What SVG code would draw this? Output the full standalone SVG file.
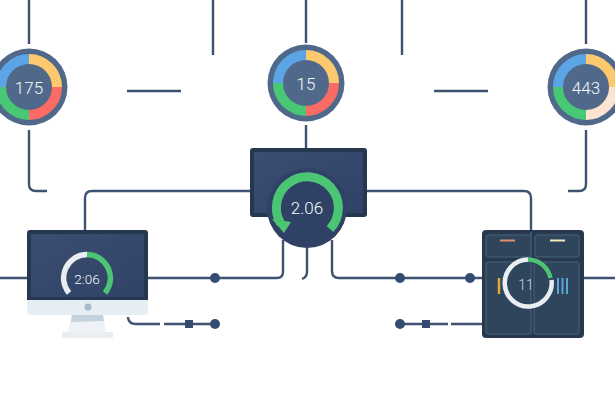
<svg xmlns="http://www.w3.org/2000/svg" width="615" height="410" viewBox="0 0 615 410">
<style>
.l{fill:none;stroke:#3f5272;stroke-width:2.4}
.d{fill:#344c70}
.t{font-family:"Roboto","Liberation Sans",sans-serif;font-weight:300;fill:#f6f8fa;text-anchor:middle}
.s{fill:none;stroke-width:10}
.g{fill:none;stroke:#4bc573;stroke-linecap:butt}
.w{fill:none;stroke:#e9eef2;stroke-linecap:butt}
.c{fill:#2f455c;stroke:#4a6479;stroke-width:1}
</style>
<defs>
<g id="donut">
<circle r="38.5" fill="#50698a"/>
<path class="s" stroke="#fcc96e" d="M0-28A28 28 0 0 1 28 0"/>
<path class="s" stroke="#5ba4e6" d="M-28 0A28 28 0 0 1 0-28"/>
<path class="s" stroke="#48c774" d="M0 28A28 28 0 0 1-28 0"/>
</g>
<linearGradient id="scr" x1="0" y1="0" x2="1" y2="1"><stop offset="0" stop-color="#3b4d70"/><stop offset="1" stop-color="#304366"/></linearGradient>
</defs>
<rect width="615" height="410" fill="#fff"/>
<g id="connectors">
<path class="l" d="M29 0V44M213 0V55M306 0V43M402 0V55M586 0V44M127 91H181M434 91H488M306 125V150"/>
<path class="l" d="M29 130V184Q29 191 36 191H47M586 130V184Q586 191 579 191H568"/>
<path class="l" d="M250 191H92Q85 191 85 198V232M367 191H524Q531 191 531 198V232"/>
<path class="l" d="M0 278H28M148 278H277Q283 278 283 272V240M307 245V272Q307 277 302 279M332 240V271Q332 278 339 278H483M583 278H615"/>
<path class="l" d="M128 317V318Q129 324 136 324H160M164 324H215M400 324H448M451 324H483"/>
<circle class="d" cx="215" cy="278" r="5"/><circle class="d" cx="400" cy="278" r="5"/><circle class="d" cx="470" cy="278" r="5"/>
<circle class="d" cx="215" cy="324" r="5"/><circle class="d" cx="400" cy="324" r="5"/>
<rect class="d" x="185" y="320" width="8" height="8"/><rect class="d" x="422" y="320" width="8" height="8"/>
</g>
<g id="gauge-left" transform="translate(29 87)">
<use href="#donut"/>
<path class="s" stroke="#f96b64" d="M28 0A28 28 0 0 1 0 28"/>
<text class="t" x="0" y="6.500" font-size="17">175</text>
</g>
<g id="gauge-center" transform="translate(306 83)">
<use href="#donut"/>
<path class="s" stroke="#f96b64" d="M28 0A28 28 0 0 1 0 28"/>
<text class="t" x="0" y="6.500" font-size="17">15</text>
</g>
<g id="gauge-right" transform="translate(586 87)">
<use href="#donut"/>
<path class="s" stroke="#fde4d0" d="M28 0A28 28 0 0 1 0 28"/>
<text class="t" x="0" y="6.500" font-size="17">443</text>
</g>
<g id="monitor-center">
<rect x="250" y="148" width="117" height="69" rx="3" fill="#26384f"/>
<rect x="254" y="152" width="109" height="61" fill="url(#scr)"/>
<circle cx="307" cy="208" r="40" fill="#2f4266"/>
<path class="g" stroke-width="9" d="M281 224A31 31 0 1 1 330 229"/>
<path d="M272 219L291 222L284 233Z" fill="#4bc573"/>
<text class="t" x="307" y="213.500" font-size="17">2.06</text>
</g>
<g id="monitor-left">
<path d="M71 315H103L106 332H68Z" fill="#eef2f6"/>
<path d="M72 315H103L104 321L71 322Z" fill="#c5d2dc"/>
<rect x="62" y="332" width="51" height="6" rx="1" fill="#e8eef2"/>
<rect x="27" y="296" width="121" height="19" rx="3" fill="#e6edf3"/>
<path d="M27 300V233Q27 230 30 230H145Q148 230 148 233V300Z" fill="#26384f"/>
<rect x="31" y="234" width="113" height="63" fill="url(#scr)"/>
<circle cx="88" cy="307" r="3.500" fill="#a8b8c4"/>
<path class="w" stroke-width="5.500" d="M69 293A23.500 23.500 0 0 1 87 254.500"/>
<path class="g" stroke-width="5.500" d="M87 254.500A23.500 23.500 0 0 1 105 293"/>
<text class="t" x="87" y="284" font-size="13.500">2:06</text>
</g>
<g id="panel-right">
<rect x="482" y="230" width="102" height="108" rx="4" fill="#28394f"/>
<rect class="c" x="486" y="235" width="45" height="22" rx="2"/>
<rect class="c" x="535" y="235" width="44" height="22" rx="2"/>
<rect class="c" x="486" y="262" width="45" height="72" rx="2"/>
<rect class="c" x="534" y="262" width="45" height="72" rx="2"/>
<path d="M500 240.500H515" stroke="#e0926a" stroke-width="2"/>
<path d="M550 240.500H565" stroke="#f0e8b8" stroke-width="2"/>
<path d="M499 278V294" stroke="#e8a33f" stroke-width="2.500"/>
<path d="M558 278V294M562.500 278V294M567 278V294" stroke="#5ba4d6" stroke-width="2"/>
<path d="M531 232V334" stroke="#3d5070" stroke-width="2"/>
<path class="w" stroke-width="4.500" d="M551.500 280A23.500 23.500 0 1 1 528 259.500"/>
<path class="g" stroke-width="4.500" d="M528 259.500A23.500 23.500 0 0 1 550.500 278"/>
<text class="t" x="526" y="290" font-size="14" fill-opacity=".8">11</text>
</g>
</svg>
